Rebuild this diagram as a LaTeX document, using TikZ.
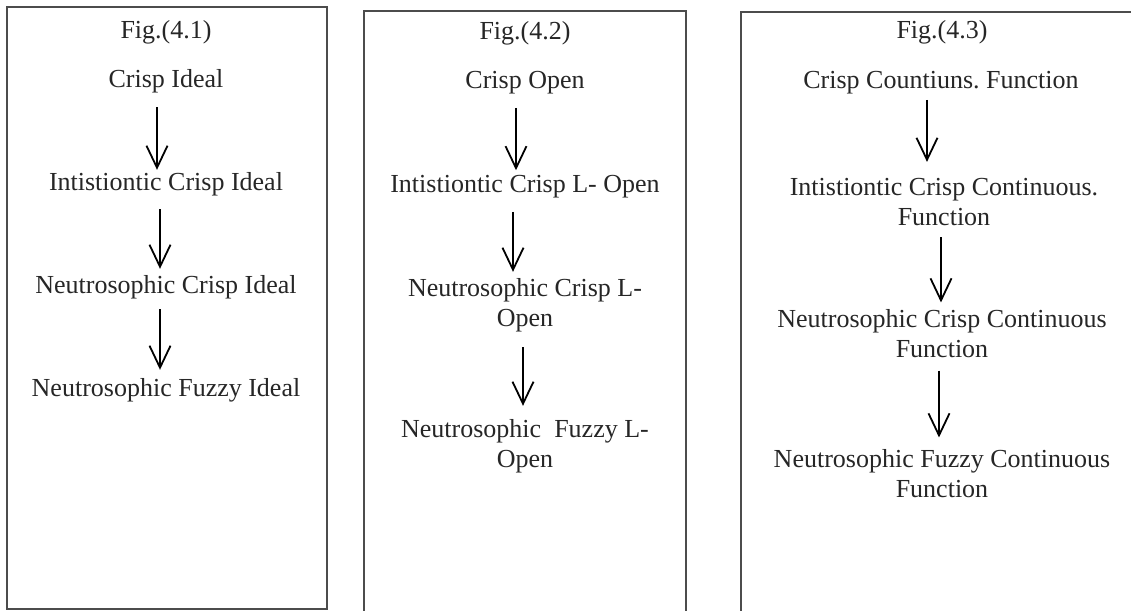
\documentclass[tikz,border=0pt]{standalone}
\usepackage{fontspec}
\setmainfont{Liberation Serif}
\usetikzlibrary{arrows.meta}
\frenchspacing

\begin{document}
\begin{tikzpicture}
[x=0.5pt,y=-0.5pt,
  darkArrow/.style={-{Straight Barb[length=11pt,width=10.5pt]},line width=0.9pt},%
  figBox/.style={draw=black!70,line width=0.8pt},%
  nodeText/.style={inner sep=0pt,align=center,text=black!85,font=\fontsize{13}{15}\selectfont}]
\useasboundingbox (0,0) rectangle (1131,611);
\clip (0,0) rectangle (1131,611);
%% frames
\draw[figBox] (7,7) rectangle (327,609);
\draw[figBox] (364,11) rectangle (686,640);
\draw[figBox] (741,12) rectangle (1160,640);
%% nodes
\foreach \nodename/\x/\y/\txt in {f1/166/32/{Fig.(4.1)}, a1/166/81/{Crisp Ideal},
  a2/166/184/{Intistiontic Crisp Ideal}, a3/166/287/{Neutrosophic Crisp Ideal},
  a4/166/390/{Neutrosophic Fuzzy Ideal}}
{
  \node (\nodename) at (\x,\y) [nodeText] {\txt};
}
\foreach \nodename/\x/\y/\txt in {f2/525/33/{Fig.(4.2)}, b1/525/83/{Crisp Open},
  b2/525/187/{Intistiontic Crisp L- Open}, b3/525/305/{Neutrosophic Crisp L-\\Open},
  b4/525/446/{Neutrosophic\ \ Fuzzy L-\\Open}}
{
  \node (\nodename) at (\x,\y) [nodeText] {\txt};
}
\foreach \nodename/\x/\y/\txt in {f3/942/32/{Fig.(4.3)}, c1/941/83/{Crisp Countiuns. Function},
  c2/944/202/{Intistiontic Crisp Continuous.\\Function},
  c3/942/334/{Neutrosophic Crisp Continuous\\Function},
  c4/942/474/{Neutrosophic Fuzzy Continuous\\Function}}
{
  \node (\nodename) at (\x,\y) [nodeText] {\txt};
}
%% arrows
\foreach \startnode/\endnode/\dx/\sa/\sb in {a1/a2/-4.5/7/1, a2/a3/-3/6.5/3, a3/a4/-3/5/4,
  b1/b2/-4.5/6.5/2.5, b2/b3/-6/6.5/3, b3/b4/-1/7.5/6.5,
  c1/c2/-7/2.5/8, c2/c3/-1.5/5.5/3.5, c3/c4/-1.5/6/6}
{
  \draw[darkArrow,shorten <=\sa pt,shorten >=\sb pt]
    ([xshift=\dx pt]\startnode.south) -- ([xshift=\dx pt]\startnode.south |- \endnode.north);
}
\end{tikzpicture}
\end{document}
